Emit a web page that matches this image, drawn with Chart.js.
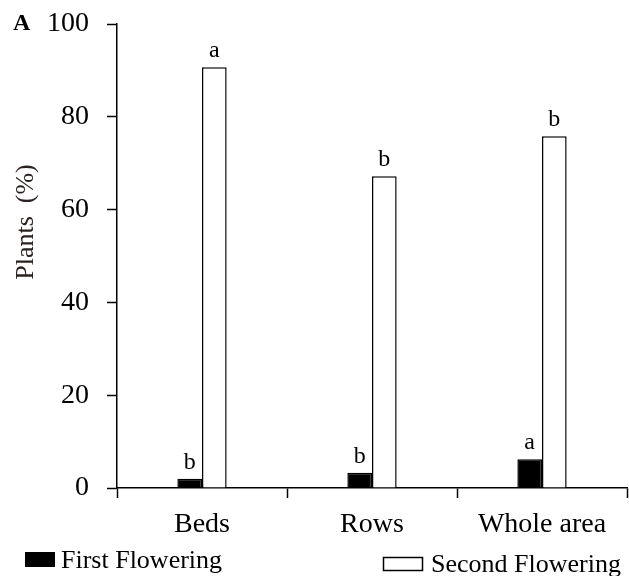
<!DOCTYPE html>
<html>
<head>
<meta charset="utf-8">
<script src="https://cdn.jsdelivr.net/npm/chart.js@4"></script>
<style>
  html, body { margin: 0; padding: 0; background: #fff; }
  canvas { display: block; }
</style>
</head>
<body>
<canvas id="chart" width="629" height="576"></canvas>
<script>
var categories = ['Beds', 'Rows', 'Whole area'];
var firstFlowering = [2, 3.3, 6.2];
var secondFlowering = [90.7, 67.2, 75.8];
var firstLetters = ['b', 'b', 'a'];
var secondLetters = ['a', 'b', 'b'];
var yTicks = [0, 20, 40, 60, 80, 100];

var serif = "'Liberation Serif', 'Times New Roman', serif";

// letters over bars, panel letter, axis title, legend at the bottom
var extras = {
    id: 'extras',
    afterDraw: function (chart) {
        var ctx = chart.ctx;
        ctx.save();
        ctx.fillStyle = '#000';
        ctx.font = '24px ' + serif;
        ctx.textAlign = 'center';
        ctx.textBaseline = 'alphabetic';
        [firstLetters, secondLetters].forEach(function (letters, di) {
            var meta = chart.getDatasetMeta(di);
            meta.data.forEach(function (bar, i) {
                ctx.fillText(letters[i], bar.x, bar.y - 10);
            });
        });

        // panel letter
        ctx.font = 'bold 24px ' + serif;
        ctx.textAlign = 'left';
        ctx.fillText('A', 13, 30);

        // y axis title
        ctx.save();
        ctx.translate(26, 222);
        ctx.rotate(-Math.PI / 2);
        ctx.font = '26px ' + serif;
        ctx.textAlign = 'center';
        ctx.fillStyle = '#2a2220';
        ctx.textBaseline = 'middle';
        ctx.fillText('Plants  (%)', 0, 0);
        ctx.restore();

        // legend
        ctx.font = '26px ' + serif;
        ctx.textAlign = 'left';
        ctx.textBaseline = 'middle';
        ctx.fillStyle = '#000';
        ctx.fillRect(25, 552, 30, 15);
        ctx.fillText('First Flowering', 61, 561);
        ctx.lineWidth = 1.5;
        ctx.strokeStyle = '#000';
        ctx.strokeRect(383.5, 557.5, 39, 13);
        ctx.fillText('Second Flowering', 431, 565);
        ctx.restore();
    }
};

new Chart(document.getElementById('chart'), {
    type: 'bar',
    data: {
        labels: categories,
        datasets: [{
            label: 'First Flowering',
            data: firstFlowering,
            backgroundColor: '#000',
            borderColor: '#000',
            borderWidth: 1.5,
            categoryPercentage: 0.29,
            barPercentage: 1.0
        }, {
            label: 'Second Flowering',
            data: secondFlowering,
            backgroundColor: '#fff',
            borderColor: '#000',
            borderWidth: 1.5,
            categoryPercentage: 0.29,
            barPercentage: 1.0
        }]
    },
    options: {
        responsive: false,
        animation: false,
        layout: { padding: { top: 24, right: 2, left: 0, bottom: 0 } },
        plugins: {
            legend: { display: false },
            tooltip: { enabled: false }
        },
        scales: {
            x: {
                grid: {
                    display: true,
                    offset: true,
                    drawOnChartArea: false,
                    drawTicks: true,
                    tickLength: 10,
                    tickWidth: 1.5,
                    tickColor: '#000'
                },
                border: { color: '#000', width: 1.5 },
                ticks: {
                    color: '#000',
                    font: { family: serif, size: 28 },
                    padding: 10
                },
                afterFit: function (s) {
                    s.height = 88;
                    s.paddingLeft = 0;
                    s.paddingRight = 0;
                }
            },
            y: {
                min: 0,
                max: 100,
                afterBuildTicks: function (s) {
                    s.ticks = yTicks.map(function (v) { return { value: v }; });
                },
                grid: {
                    drawOnChartArea: false,
                    drawTicks: true,
                    tickLength: 10,
                    tickWidth: 1.5,
                    tickColor: '#000'
                },
                border: { color: '#000', width: 1.5 },
                ticks: {
                    color: '#000',
                    font: { family: serif, size: 28 },
                    padding: 18
                },
                afterFit: function (s) {
                    s.width = 117;
                    s.paddingTop = 0;
                    s.paddingBottom = 0;
                }
            }
        }
    },
    plugins: [extras]
});
</script>
</body>
</html>
